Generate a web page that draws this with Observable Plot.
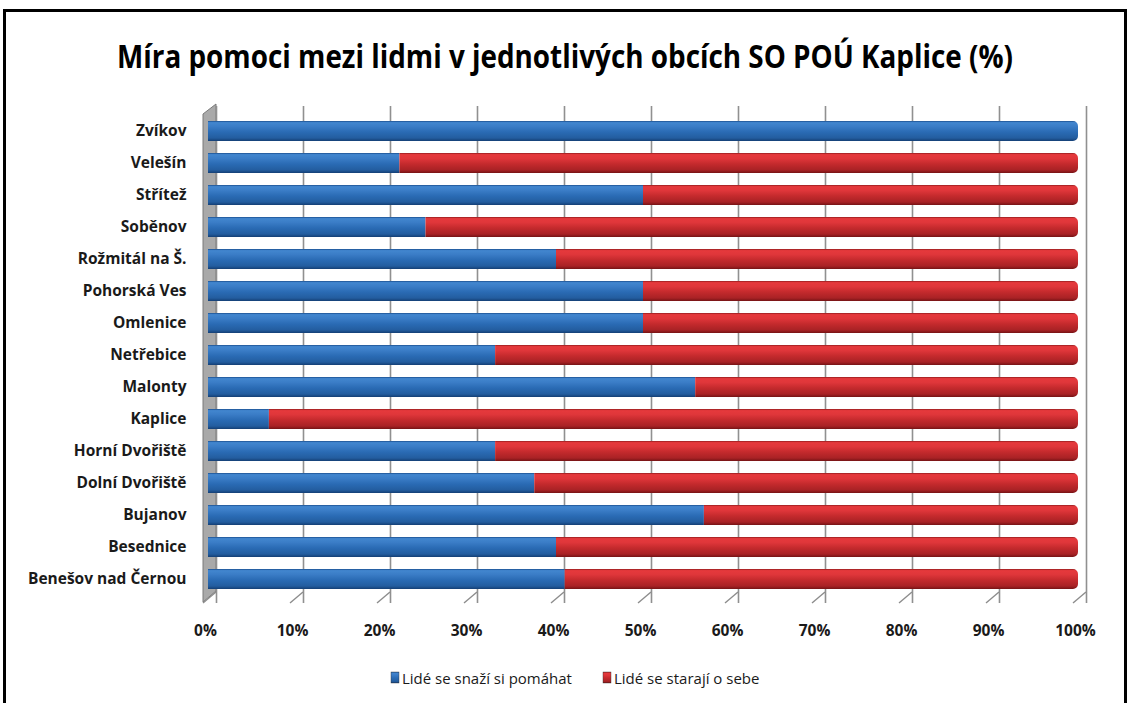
<!DOCTYPE html>
<html>
<head>
<meta charset="utf-8">
<script src="https://cdn.jsdelivr.net/npm/d3@7"></script>
<script src="https://cdn.jsdelivr.net/npm/@observablehq/plot@0.6"></script>
<style>
  html, body { margin: 0; padding: 0; background: #fff; }
  body { width: 1128px; height: 703px; position: relative; overflow: hidden; }
  #frame { position: absolute; left: 3px; top: 9px; width: 1124px; height: 720px; border: 3px solid #000; box-sizing: border-box; }
  #chart { position: absolute; left: 0; top: 0; }
</style>
</head>
<body>
<div id="frame"></div>
<div id="chart"></div>
<script>
const title = "Míra pomoci mezi lidmi v jednotlivých obcích SO POÚ Kaplice (%)";
const series = ["Lidé se snaží si pomáhat", "Lidé se starají o sebe"];
const obce = ["Zvíkov","Velešín","Střítež","Soběnov","Rožmitál na Š.","Pohorská Ves","Omlenice","Netřebice","Malonty","Kaplice","Horní Dvořiště","Dolní Dvořiště","Bujanov","Besednice","Benešov nad Černou"];
const pomahat = [100, 22, 50, 25, 40, 50, 50, 33, 56, 7, 33, 37.5, 57, 40, 41];
const sebe = [0, 78, 50, 75, 60, 50, 50, 67, 44, 93, 67, 62.5, 43, 60, 59];
const xTicks = [0,10,20,30,40,50,60,70,80,90,100];

const data = [];
obce.forEach((o, i) => {
  data.push({obec: o, series: series[0], value: pomahat[i]});
  data.push({obec: o, series: series[1], value: sebe[i]});
});

const font = '"Open Sans", "Noto Sans", sans-serif';

const plot = Plot.plot({
  width: 1128,
  height: 703,
  marginLeft: 208,
  marginRight: 50,
  marginTop: 106,
  marginBottom: 100,
  style: {fontFamily: font, background: "transparent", overflow: "visible"},
  x: {domain: [0, 100], ticks: xTicks, tickFormat: d => d + "%", label: null},
  y: {domain: obce, padding: 0.38, label: null},
  color: {domain: series, range: ["url(#gBlue)", "url(#gRed)"]},
  marks: [
    Plot.ruleX(xTicks, {x: d => d, dx: 8, stroke: "#909090", strokeWidth: 1.6}),
    Plot.barX(data, Plot.stackX({x: "value", y: "obec", fill: "series", order: series})),
    Plot.axisY({tickSize: 0, tickPadding: 22, fontSize: 15.5, fontWeight: "bold", fill: "#1a1a1a"}),
    Plot.axisX({ticks: xTicks, tickFormat: d => d + "%", tickSize: 0, tickPadding: 21, fontSize: 15.5, fontWeight: "bold", fill: "#1a1a1a", dx: -3})
  ]
});

document.getElementById("chart").appendChild(plot);

const svg = d3.select(plot);
const xs = plot.scale("x");
const ys = plot.scale("y");
const X = v => xs.apply(v);
const yTop = 106, yBottom = 703 - 100;

// gradients
const defs = svg.insert("defs", ":first-child");
function grad(id, stops) {
  const g = defs.append("linearGradient").attr("id", id).attr("x1", 0).attr("y1", 0).attr("x2", 0).attr("y2", 1);
  stops.forEach(([o, c]) => g.append("stop").attr("offset", o).attr("stop-color", c));
}
grad("gBlue", [["0", "#1a4f8f"], ["0.08", "#4286cf"], ["0.28", "#3a7cc6"], ["0.55", "#2a6bb4"], ["0.85", "#235d9f"], ["1", "#143f75"]]);
grad("gRed", [["0", "#941c1e"], ["0.08", "#e6393c"], ["0.28", "#df363a"], ["0.55", "#c42a2d"], ["0.85", "#a92225"], ["1", "#761315"]]);

// rounded right ends of the bars (clip by rounded row shapes from the y scale)
const clip = defs.append("clipPath").attr("id", "rowClip");
obce.forEach(o => {
  clip.append("rect")
    .attr("x", X(0) - 12).attr("width", X(100) - X(0) + 12)
    .attr("y", ys.apply(o)).attr("height", ys.bandwidth)
    .attr("rx", 5).attr("ry", 5);
});
svg.select("g[aria-label='bar']").attr("clip-path", "url(#rowClip)");

// left 3D wall and floor diagonals (behind everything)
const back = svg.insert("g", "g");
const x0 = X(0);
back.append("path")
  .attr("d", `M${x0 - 5},${yTop + 8} L${x0 + 8},${yTop - 2} L${x0 + 8},${yBottom - 12} L${x0 - 5},${yBottom - 1} Z`)
  .attr("fill", "#a9a9a9").attr("stroke", "#7a7a7a").attr("stroke-width", 1);
xTicks.forEach(t => {
  back.append("line")
    .attr("x1", X(t) - 5).attr("y1", yBottom)
    .attr("x2", X(t) + 8).attr("y2", yBottom - 11)
    .attr("stroke", "#8c8c8c").attr("stroke-width", 1.4);
});

// title, horizontally condensed to the reference width
const t = svg.append("text")
  .attr("text-anchor", "middle")
  .attr("font-family", font)
  .attr("font-size", 32).attr("font-weight", "bold").attr("fill", "#000")
  .text(title);
const tw = t.node().getComputedTextLength();
t.attr("transform", `translate(565,68) scale(${Math.min(1, 896 / tw)},1)`);

// legend
const leg = svg.append("g").attr("font-size", 15).attr("fill", "#1a1a1a").attr("font-family", font).attr("text-anchor", "start");
const legItems = [{x: 391, base: "url(#gBlue)", w: 170}, {x: 603, base: "url(#gRed)", w: 157}];
legItems.forEach((it, i) => {
  leg.append("rect").attr("x", it.x).attr("y", 672).attr("width", 8).attr("height", 11)
    .attr("fill", it.base).attr("stroke", "#333").attr("stroke-width", 0.4);
  const lt = leg.append("text").attr("text-anchor", "start").text(series[i]);
  const lw = lt.node().getComputedTextLength();
  lt.attr("transform", `translate(${it.x + 11},684) scale(${Math.min(1, it.w / lw)},1)`);
});
</script>
</body>
</html>
